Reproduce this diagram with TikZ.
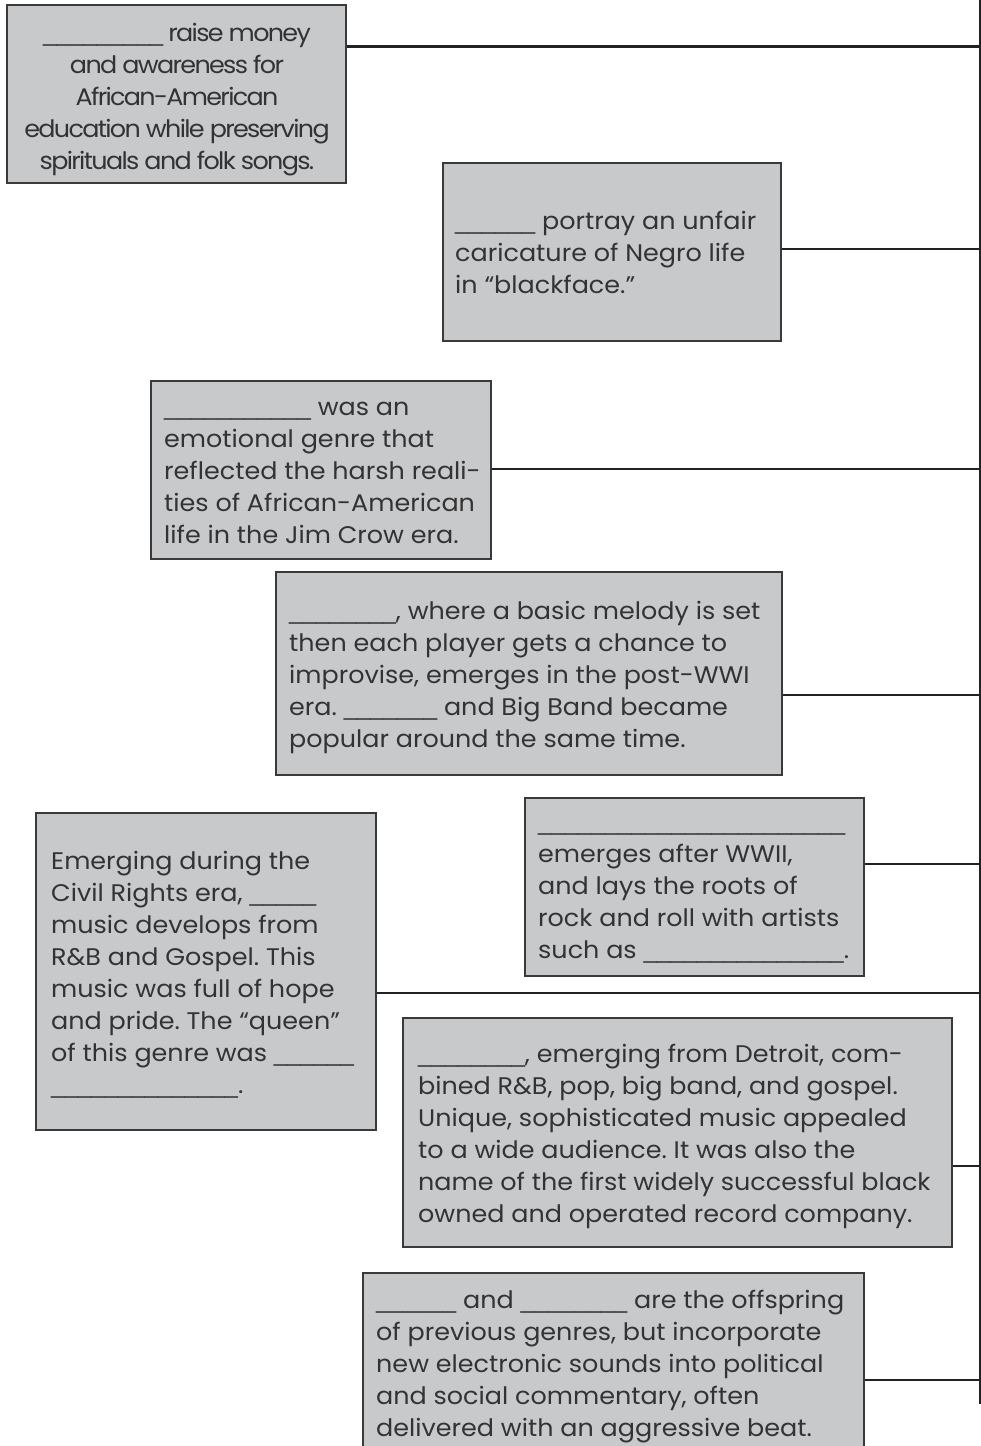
\documentclass[tikz,border=0pt]{standalone}
\usepackage{fontspec}
\setmainfont[FakeStretch=1.06]{Poppins}
\newfontfamily\tightfont[LetterSpace=-7,FakeStretch=1.06]{Poppins}
\newfontfamily\ulfont{Liberation Sans}
\ExplSyntaxOn
\cs_new:Npn \blankn #1 {{\ulfont\prg_replicate:nn{#1}{\textunderscore}}}
\ExplSyntaxOff
\definecolor{boxfill}{HTML}{C8C9CB}
\definecolor{ink}{HTML}{333333}
\definecolor{edge}{HTML}{3A3A3A}
\definecolor{wire}{HTML}{222222}
\frenchspacing
\begin{document}
\begin{tikzpicture}[x=1pt,y=-1pt,
  card/.style={draw=edge, line width=1.5pt, fill=boxfill, inner sep=0pt},
  txt/.style={text=ink, inner sep=0pt, anchor=base west, font=\fontsize{24}{32}\selectfont},
  link/.style={draw=wire, line width=2.6pt},
  spineline/.style={draw=wire, line width=2pt}]
\useasboundingbox (0,0) rectangle (981,1446);
\clip (0,0) rectangle (981,1446);
\fill[white] (0,0) rectangle (981,1446);

% boxes
\node[card, minimum width=339pt, minimum height=178pt] (a) at (176.5,94) {};
\node[card, minimum width=338pt, minimum height=178pt] (b) at (612,252) {};
\node[card, minimum width=340pt, minimum height=178pt] (c) at (321,470) {};
\node[card, minimum width=506pt, minimum height=203pt] (d) at (529,673.5) {};
\node[card, minimum width=339pt, minimum height=178pt] (e) at (694.5,887) {};
\node[card, minimum width=340pt, minimum height=317pt] (f) at (206,971.5) {};
\node[card, minimum width=549pt, minimum height=229pt] (g) at (677.5,1132.5) {};
\node[card, minimum width=501pt, minimum height=200pt] (h) at (613.5,1373) {};

% texts
\node[txt, anchor=base] (at) at (177,41) {\parbox[t]{340pt}{\centering\tightfont
\blankn{9} raise money\\
and awareness for\\
African-American\\
education while preserving\\
spirituals and folk songs.}};

\node[txt] (bt) at (455,229) {\parbox[t]{600pt}{\raggedright
\blankn{6} portray an unfair\\
caricature of Negro life\\
in “blackface.”}};

\node[txt] (ct) at (164,415) {\parbox[t]{600pt}{\raggedright
\blankn{11} was an\\
emotional genre that\\
reflected the harsh reali-\\
ties of African-American\\
life in the Jim Crow era.}};

\node[txt] (dt) at (289,619) {\parbox[t]{600pt}{\raggedright
\blankn{8}, where a basic melody is set\\
then each player gets a chance to\\
improvise, emerges in the post-WWI\\
era. \blankn{7} and Big Band became\\
popular around the same time.}};

\node[txt] (et) at (538,830) {\parbox[t]{600pt}{\raggedright
\blankn{23}\\
emerges after WWII,\\
and lays the roots of\\
rock and roll with artists\\
such as \blankn{15}.}};

\node[txt] (ft) at (51,869) {\parbox[t]{600pt}{\raggedright
Emerging during the\\
Civil Rights era, \blankn{5}\\
music develops from\\
R\&B and Gospel. This\\
music was full of hope\\
and pride. The “queen”\\
of this genre was \blankn{6}\\
\blankn{14}.}};

\node[txt] (gt) at (418,1062) {\parbox[t]{600pt}{\raggedright
\blankn{8}, emerging from Detroit, com-\\
bined R\&B, pop, big band, and gospel.\\
Unique, sophisticated music appealed\\
to a wide audience. It was also the\\
name of the first widely successful black\\
owned and operated record company.}};

\node[txt] (ht) at (376,1308) {\parbox[t]{600pt}{\raggedright
\blankn{6} and \blankn{8} are the offspring\\
of previous genres, but incorporate\\
new electronic sounds into political\\
and social commentary, often\\
delivered with an aggressive beat.}};

% spine and connectors
\coordinate (top) at (980,0);
\coordinate (bot) at (980,1404);
\draw[spineline] (top) -- (bot);
\coordinate (ka) at (980,46.5);
\coordinate (kb) at (980,249);
\coordinate (kc) at (980,469);
\coordinate (kd) at (980,695);
\coordinate (ke) at (980,864);
\coordinate (kf) at (980,993);
\coordinate (kg) at (980,1166);
\coordinate (kh) at (980,1380);
\draw[link] (a.east |- ka) -- (ka);
\draw[link] (b.east |- kb) -- (kb);
\draw[link] (c.east |- kc) -- (kc);
\draw[link] (d.east |- kd) -- (kd);
\draw[link] (e.east |- ke) -- (ke);
\draw[link] (f.east |- kf) -- (kf);
\draw[link] (g.east |- kg) -- (kg);
\draw[link] (h.east |- kh) -- (kh);
\end{tikzpicture}
\end{document}
